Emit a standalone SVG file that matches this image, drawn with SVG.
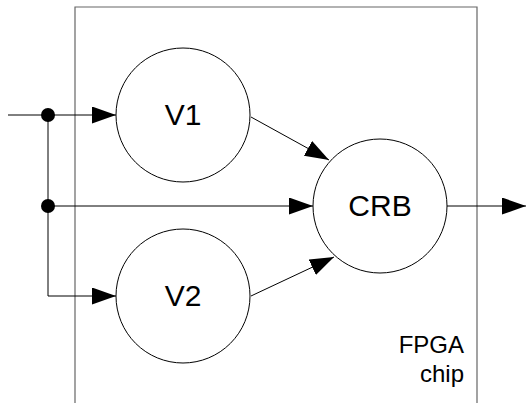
<svg xmlns="http://www.w3.org/2000/svg" width="527" height="403" viewBox="0 0 527 403">
<style>
.node circle{fill:#fff;stroke:#000;stroke-width:1}
.lbl{font-family:"Liberation Sans",Arial,sans-serif;font-size:30px;fill:#000;text-anchor:middle}
.chip{font-family:"Liberation Sans",Arial,sans-serif;font-size:24px;fill:#000;text-anchor:end}
.conn line,.conn path{stroke:#000;stroke-width:1;fill:none}
</style>
<defs>
<marker id="arr" markerUnits="userSpaceOnUse" markerWidth="26" markerHeight="20" refX="24" refY="8.5" orient="auto" viewBox="0 0 26 20">
<path d="M0,0 L24,8.5 L0,17 Z" fill="#000"/>
</marker>
</defs>
<g id="fpga-chip">
<path d="M75,403 V7 H477 V403" fill="none" stroke="#666" stroke-width="1.2"/>
<text class="chip" x="464" y="353">FPGA</text>
<text class="chip" x="464" y="382">chip</text>
</g>
<g class="conn" id="connectors">
<line x1="8" y1="115" x2="116" y2="115" marker-end="url(#arr)"/>
<path d="M48,115 V296 H116" marker-end="url(#arr)"/>
<line x1="48" y1="206" x2="313" y2="206" marker-end="url(#arr)"/>
<line x1="251" y1="117" x2="329" y2="160" marker-end="url(#arr)"/>
<line x1="251" y1="296" x2="334" y2="257" marker-end="url(#arr)"/>
<line x1="447" y1="206" x2="526" y2="206" marker-end="url(#arr)"/>
<circle cx="48" cy="115" r="7" fill="#000"/>
<circle cx="48" cy="206" r="7" fill="#000"/>
</g>
<g class="node" id="V1">
<circle cx="183" cy="115" r="67"/>
<text class="lbl" x="183" y="125">V1</text>
</g>
<g class="node" id="V2">
<circle cx="183" cy="296" r="67"/>
<text class="lbl" x="183" y="306">V2</text>
</g>
<g class="node" id="CRB">
<circle cx="380" cy="206" r="67"/>
<text class="lbl" x="380" y="216">CRB</text>
</g>
</svg>
